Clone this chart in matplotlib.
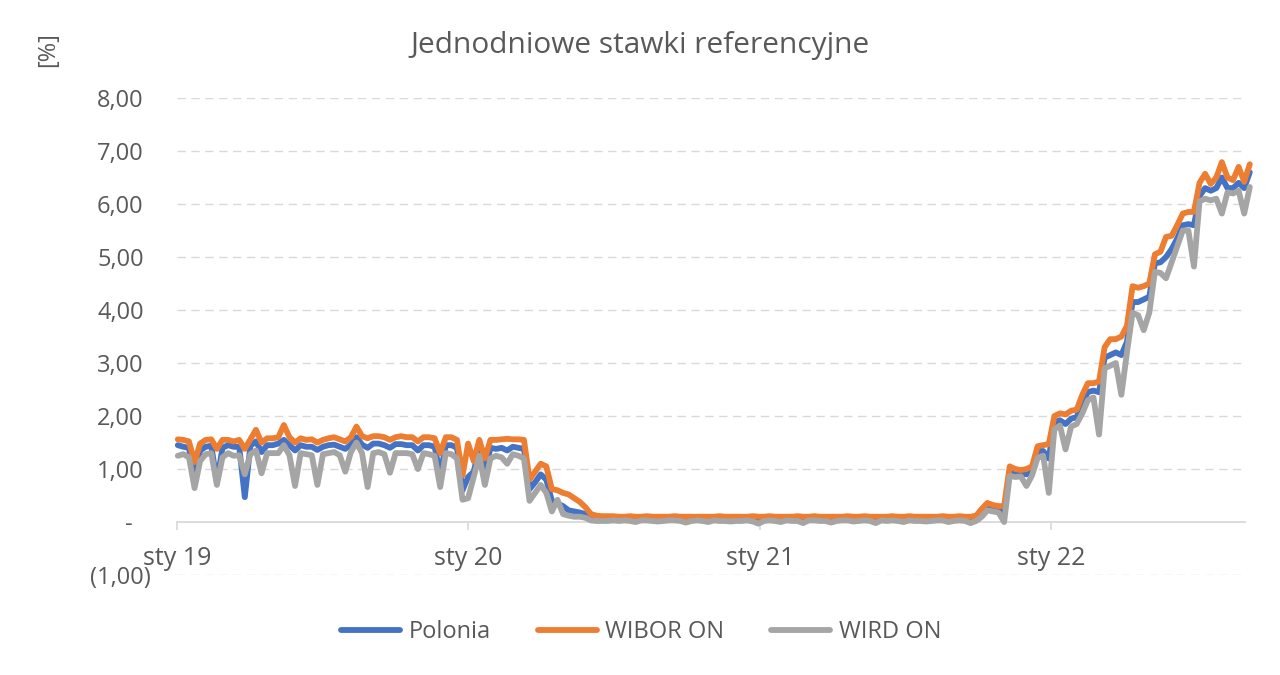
import matplotlib
matplotlib.use("Agg")
import matplotlib.pyplot as plt
import matplotlib.transforms as mtransforms
import pandas as pd

plt.rcParams['font.family'] = ['Open Sans', 'DejaVu Sans']

# weekly readings (Wednesdays) from 2019-01-02
start_date = '2019-01-02'

wibor_on = [
    # 2019
    1.56, 1.55, 1.52, 1.13, 1.48,
    1.55, 1.56, 1.38, 1.55,
    1.55, 1.52, 1.55, 1.38,
    1.56, 1.74, 1.50, 1.58,
    1.58, 1.60, 1.83, 1.60, 1.50,
    1.58, 1.55, 1.56, 1.50,
    1.55, 1.58, 1.60, 1.56, 1.52,
    1.60, 1.80, 1.62, 1.58,
    1.62, 1.62, 1.60, 1.55,
    1.60, 1.62, 1.60, 1.60, 1.52,
    1.60, 1.60, 1.58, 1.30,
    1.60, 1.60, 1.55, 0.88,
    # 2020
    1.48, 1.15, 1.55, 1.20, 1.55,
    1.55, 1.56, 1.57, 1.56,
    1.56, 1.55, 0.80, 0.95,
    1.10, 1.05, 0.62, 0.60, 0.55,
    0.52, 0.45, 0.38, 0.28,
    0.15, 0.12, 0.11, 0.11,
    0.11, 0.10, 0.10, 0.11, 0.10,
    0.10, 0.11, 0.10, 0.10,
    0.10, 0.10, 0.11, 0.10, 0.10,
    0.10, 0.10, 0.10, 0.10,
    0.10, 0.11, 0.10, 0.10,
    0.10, 0.10, 0.10, 0.11, 0.10,
    # 2021
    0.10, 0.11, 0.10, 0.10,
    0.10, 0.10, 0.11, 0.10,
    0.10, 0.11, 0.10, 0.10, 0.10,
    0.10, 0.10, 0.11, 0.10,
    0.10, 0.11, 0.10, 0.10,
    0.10, 0.10, 0.11, 0.10, 0.10,
    0.11, 0.10, 0.10, 0.10,
    0.10, 0.10, 0.11, 0.10,
    0.10, 0.11, 0.10, 0.10, 0.12,
    0.25, 0.36, 0.32, 0.30,
    0.30, 1.05, 1.00, 0.98,
    1.00, 1.05, 1.43, 1.45, 1.47,
    # 2022
    2.00, 2.05, 2.03, 2.10,
    2.12, 2.40, 2.62, 2.62,
    2.65, 3.30, 3.45, 3.45, 3.50,
    3.70, 4.45, 4.42, 4.45,
    4.50, 5.05, 5.10, 5.38,
    5.40, 5.60, 5.82, 5.85, 5.85,
    6.40, 6.57, 6.38, 6.50,
    6.79, 6.50, 6.45, 6.70, 6.42,
    6.75,
]

polonia = [
    # 2019
    1.45, 1.42, 1.40, 0.72, 1.35,
    1.42, 1.44, 0.75, 1.40,
    1.45, 1.42, 1.42, 0.47,
    1.44, 1.52, 1.32, 1.45,
    1.45, 1.48, 1.55, 1.45, 1.35,
    1.45, 1.42, 1.42, 1.36,
    1.42, 1.45, 1.46, 1.42, 1.38,
    1.46, 1.60, 1.46, 1.40,
    1.48, 1.48, 1.45, 1.40,
    1.47, 1.47, 1.45, 1.45, 1.35,
    1.45, 1.45, 1.42, 0.90,
    1.45, 1.45, 1.40, 0.60,
    # 2020
    0.85, 0.95, 1.40, 0.95, 1.40,
    1.38, 1.40, 1.35, 1.42,
    1.40, 1.38, 0.62, 0.75,
    0.90, 0.80, 0.40, 0.35, 0.30,
    0.22, 0.20, 0.18, 0.15,
    0.08, 0.07, 0.07, 0.07,
    0.07, 0.07, 0.06, 0.07, 0.06,
    0.07, 0.07, 0.06, 0.06,
    0.06, 0.07, 0.07, 0.06, 0.05,
    0.06, 0.06, 0.07, 0.06,
    0.06, 0.07, 0.06, 0.06,
    0.06, 0.06, 0.06, 0.07, 0.05,
    # 2021
    0.06, 0.07, 0.06, 0.06,
    0.06, 0.06, 0.07, 0.06,
    0.06, 0.07, 0.06, 0.06, 0.05,
    0.06, 0.06, 0.07, 0.06,
    0.06, 0.07, 0.06, 0.06,
    0.06, 0.06, 0.07, 0.06, 0.05,
    0.07, 0.06, 0.06, 0.06,
    0.06, 0.06, 0.07, 0.06,
    0.06, 0.07, 0.06, 0.06, 0.07,
    0.18, 0.30, 0.27, 0.25,
    0.20, 0.95, 0.93, 0.92,
    0.90, 0.95, 1.34, 1.34, 1.20,
    # 2022
    1.88, 1.92, 1.85, 1.95,
    1.98, 2.25, 2.45, 2.48,
    2.45, 3.10, 3.15, 3.20, 3.15,
    3.40, 4.15, 4.15, 4.20,
    4.25, 4.88, 4.90, 5.00,
    5.15, 5.35, 5.60, 5.62, 5.60,
    6.15, 6.30, 6.25, 6.30,
    6.50, 6.30, 6.30, 6.40, 6.30,
    6.60,
]

wird_on = [
    # 2019
    1.25, 1.28, 1.22, 0.64, 1.15,
    1.28, 1.30, 0.70, 1.22,
    1.30, 1.25, 1.26, 0.90,
    1.28, 1.35, 0.92, 1.30,
    1.30, 1.30, 1.45, 1.26, 0.68,
    1.30, 1.28, 1.26, 0.70,
    1.28, 1.30, 1.32, 1.26, 0.95,
    1.32, 1.50, 1.30, 0.66,
    1.30, 1.32, 1.28, 0.93,
    1.30, 1.30, 1.30, 1.28, 1.00,
    1.30, 1.28, 1.25, 0.66,
    1.30, 1.28, 1.20, 0.42,
    # 2020
    0.45, 0.85, 1.25, 0.70, 1.20,
    1.25, 1.22, 1.10, 1.28,
    1.25, 1.20, 0.40, 0.55,
    0.70, 0.55, 0.20, 0.42, 0.15,
    0.12, 0.10, 0.10, 0.08,
    0.03, 0.02, 0.02, 0.02,
    0.03, 0.02, 0.03, 0.02, 0.00,
    0.03, 0.03, 0.02, 0.01,
    0.02, 0.03, 0.03, 0.02, -0.01,
    0.02, 0.03, 0.02, 0.00,
    0.03, 0.02, 0.02, 0.01,
    0.02, 0.02, 0.03, 0.01, -0.03,
    # 2021
    0.02, 0.03, 0.02, 0.00,
    0.03, 0.02, 0.02, -0.02,
    0.03, 0.03, 0.02, 0.02, -0.01,
    0.02, 0.03, 0.03, 0.01,
    0.02, 0.03, 0.02, -0.02,
    0.03, 0.02, 0.03, 0.02, 0.00,
    0.03, 0.02, 0.02, 0.01,
    0.02, 0.03, 0.03, 0.00,
    0.02, 0.03, 0.02, -0.02, 0.02,
    0.10, 0.22, 0.20, 0.18,
    0.00, 0.87, 0.85, 0.86,
    0.68, 0.88, 1.21, 1.25, 0.55,
    # 2022
    1.75, 1.82, 1.37, 1.80,
    1.85, 2.05, 2.30, 2.35,
    1.65, 2.90, 2.95, 3.00, 2.40,
    3.20, 3.95, 3.90, 3.62,
    3.95, 4.72, 4.70, 4.60,
    4.90, 5.20, 5.50, 5.50, 4.82,
    6.05, 6.10, 6.07, 6.10,
    5.82, 6.22, 6.20, 6.25, 5.82,
    6.32,
]

series_names = ['Polonia', 'WIBOR ON', 'WIRD ON']
series_colors = ['#4472C4', '#ED7D31', '#A5A5A5']

y_ticks = [-1, 0, 1, 2, 3, 4, 5, 6, 7, 8]
y_labels = ['(1,00)', '-', '1,00', '2,00', '3,00', '4,00', '5,00', '6,00', '7,00', '8,00']
x_ticks = ['2019-01-01', '2020-01-01', '2021-01-01', '2022-01-01']
x_labels = ['sty 19', 'sty 20', 'sty 21', 'sty 22']

text_color = '#595959'
grid_color = '#D9D9D9'

fig = plt.figure(figsize=(12.8, 6.75), dpi=100)
ax = fig.add_axes([177 / 1280, 0.1481, 1068 / 1280, 0.7067])

for name, values, color in zip(series_names, [polonia, wibor_on, wird_on], series_colors):
    dates = pd.date_range(start_date, periods=len(values), freq='7D')
    ax.plot(dates, values, color=color, lw=4.2, label=name, clip_on=False,
            solid_joinstyle='round', solid_capstyle='round')

ax.set_ylim(-1, 8)
# last reading sits a few pixels past the end of the gridlines, as in the original
ax.set_xlim(pd.Timestamp('2019-01-01'), pd.Timestamp('2022-09-01'))

# horizontal dashed grid, no line at zero (axis line there)
for yv in y_ticks:
    if yv != 0:
        ax.axhline(yv, color=grid_color, lw=1.0, dashes=(6, 4), zorder=0)

for side in ['top', 'right', 'left']:
    ax.spines[side].set_visible(False)
ax.spines['bottom'].set_position(('data', 0))
ax.spines['bottom'].set_color(grid_color)
ax.spines['bottom'].set_linewidth(1.3)
ax.spines['bottom'].set_zorder(0.5)

ax.set_xticks([pd.Timestamp(d) for d in x_ticks], labels=x_labels)
ax.tick_params(axis='x', direction='out', length=6, width=1.2, color=grid_color,
               labelsize=18, labelcolor=text_color, pad=11)

ax.set_yticks(y_ticks, labels=y_labels)
ax.tick_params(axis='y', length=0, labelsize=17, labelcolor=text_color, pad=24)
for lab in ax.get_yticklabels():
    txt = lab.get_text()
    if txt.startswith('('):
        dx = 7
    elif txt == '-':
        dx = -11
    else:
        dx = 0
    if dx:
        lab.set_transform(lab.get_transform() +
                          mtransforms.ScaledTranslation(dx / 100, 0, fig.dpi_scale_trans))

fig.text(0.5, 1 - 46 / 675, 'Jednodniowe stawki referencyjne', ha='center', va='center',
         fontsize=21.5, color=text_color)
fig.text(48 / 1280, 1 - 50 / 675, '[%]', rotation=90, ha='center', va='center',
         fontsize=17, color=text_color)

fig.legend(loc='center', bbox_to_anchor=(641 / 1280, 1 - 632 / 675), ncol=3, frameon=False,
           fontsize=17, labelcolor=text_color, handlelength=2.5, handletextpad=0.35,
           columnspacing=2.0)

fig.savefig('out.png', dpi=100)
